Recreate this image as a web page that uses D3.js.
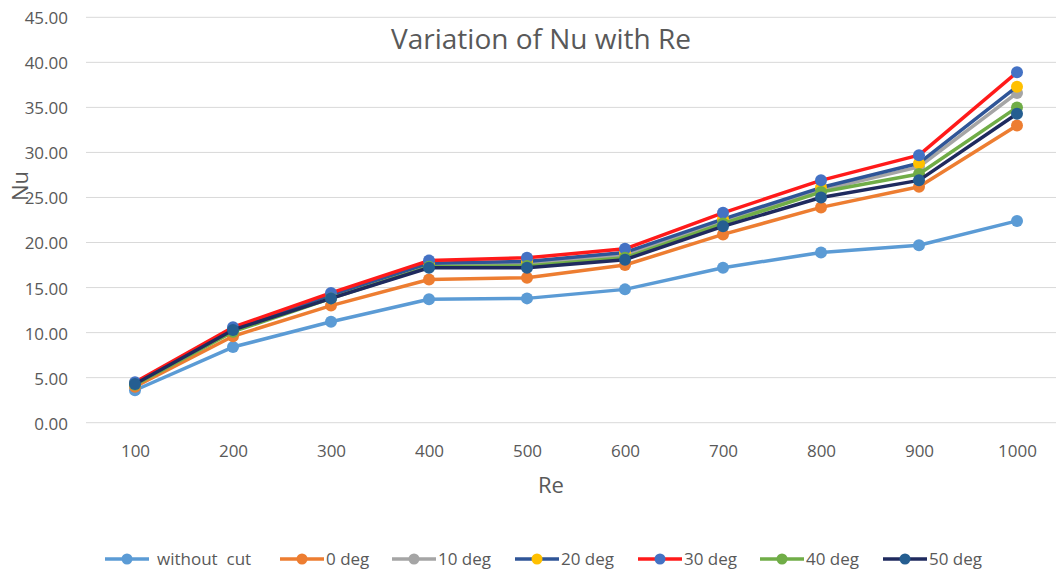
<!DOCTYPE html>
<html>
<head>
<meta charset="utf-8">
<script src="https://cdn.jsdelivr.net/npm/d3@7"></script>
<style>
  html, body { margin: 0; padding: 0; background: #fff; }
  svg { display: block; font-family: "Open Sans", "Liberation Sans", sans-serif; }
</style>
</head>
<body>
<svg id="chart" width="1056" height="571"></svg>
<script>
// Reynolds numbers along the x axis
const reValues = ["100", "200", "300", "400", "500", "600", "700", "800", "900", "1000"];
const yTicks = [0, 5, 10, 15, 20, 25, 30, 35, 40, 45];

// Nusselt number per configuration
const withoutCut = [3.6, 8.4, 11.2, 13.7, 13.8, 14.8, 17.2, 18.9, 19.7, 22.4];
const deg0  = [4.0, 9.6, 13.0, 15.9, 16.1, 17.5, 20.9, 23.9, 26.2, 33.0];
const deg10 = [4.3, 10.3, 14.0, 17.5, 17.6, 18.6, 22.3, 25.8, 28.4, 36.6];
const deg20 = [4.4, 10.4, 14.2, 17.7, 17.9, 18.9, 22.6, 26.1, 28.8, 37.3];
const deg30 = [4.5, 10.6, 14.4, 18.0, 18.3, 19.3, 23.3, 26.9, 29.7, 38.9];
const deg40 = [4.2, 10.1, 13.8, 17.3, 17.4, 18.3, 22.1, 25.6, 27.6, 35.0];
const deg50 = [4.3, 10.3, 13.8, 17.2, 17.2, 18.1, 21.8, 25.0, 26.9, 34.3];

const seriesNames = ["without  cut", "0 deg", "10 deg", "20 deg", "30 deg", "40 deg", "50 deg"];
const seriesData = [withoutCut, deg0, deg10, deg20, deg30, deg40, deg50];
const lineColors = ["#5B9BD5", "#ED7D31", "#A5A5A5", "#2F5597", "#FF1A1A", "#70AD47", "#1F2A5E"];
const markerColors = ["#5B9BD5", "#ED7D31", "#A5A5A5", "#FFC000", "#4472C4", "#70AD47", "#255E91"];

const svg = d3.select("#chart");
const textColor = "#595959";

const x = d3.scalePoint().domain(reValues).range([135, 1017]);
const y = d3.scaleLinear().domain([0, 45]).range([422.7, 17.3]);

// horizontal gridlines
svg.append("g")
  .selectAll("line")
  .data(yTicks)
  .join("line")
  .attr("x1", 86).attr("x2", 1056)
  .attr("y1", d => y(d)).attr("y2", d => y(d))
  .attr("stroke", "#D9D9D9").attr("stroke-width", 1);

// y axis labels
const yAxis = svg.append("g")
  .attr("transform", "translate(68,1)")
  .call(d3.axisLeft(y).tickValues(yTicks).tickSize(0).tickPadding(0).tickFormat(d3.format(".2f")));
yAxis.select(".domain").remove();
yAxis.selectAll("text")
  .attr("fill", textColor).style("font-size", "17px")
  .style("font-family", "'Open Sans', sans-serif");

// x axis labels
const xAxis = svg.append("g")
  .attr("transform", "translate(0,445)")
  .call(d3.axisBottom(x).tickSize(0).tickPadding(0));
xAxis.select(".domain").remove();
xAxis.selectAll("text")
  .attr("fill", textColor).style("font-size", "17px")
  .style("font-family", "'Open Sans', sans-serif");

// series lines and markers
const line = d3.line().x((d, i) => x(reValues[i])).y(d => y(d));
seriesData.forEach((vals, s) => {
  const g = svg.append("g");
  g.append("path")
    .attr("d", line(vals))
    .attr("fill", "none")
    .attr("stroke", lineColors[s])
    .attr("stroke-width", 3.5)
    .attr("stroke-linejoin", "round");
  g.selectAll("circle")
    .data(vals)
    .join("circle")
    .attr("cx", (d, i) => x(reValues[i]))
    .attr("cy", d => y(d))
    .attr("r", 6)
    .attr("fill", markerColors[s]);
});

// title and axis titles
svg.append("text")
  .attr("x", 541).attr("y", 49)
  .attr("text-anchor", "middle")
  .attr("fill", textColor)
  .style("font-size", "28px")
  .text("Variation of Nu with Re");

svg.append("text")
  .attr("x", 551).attr("y", 493)
  .attr("text-anchor", "middle")
  .attr("fill", textColor)
  .style("font-size", "22px")
  .text("Re");

svg.append("text")
  .attr("transform", "translate(28,186) rotate(-90)")
  .attr("text-anchor", "middle")
  .attr("fill", textColor)
  .style("font-size", "22px")
  .text("Nu");

// legend
const legendX = [105, 280, 392, 515, 638, 760, 883];
const legend = svg.append("g");
seriesNames.forEach((name, s) => {
  const lx = legendX[s];
  legend.append("line")
    .attr("x1", lx).attr("x2", lx + 44)
    .attr("y1", 559).attr("y2", 559)
    .attr("stroke", lineColors[s]).attr("stroke-width", 3.5);
  legend.append("circle")
    .attr("cx", lx + 22).attr("cy", 559).attr("r", 5.5)
    .attr("fill", markerColors[s]);
  legend.append("text")
    .attr("x", lx + (s === 0 ? 52 : 46)).attr("y", 565)
    .attr("fill", textColor)
    .style("font-size", "17px")
    .attr("xml:space", "preserve")
    .text(name);
});
</script>
</body>
</html>
